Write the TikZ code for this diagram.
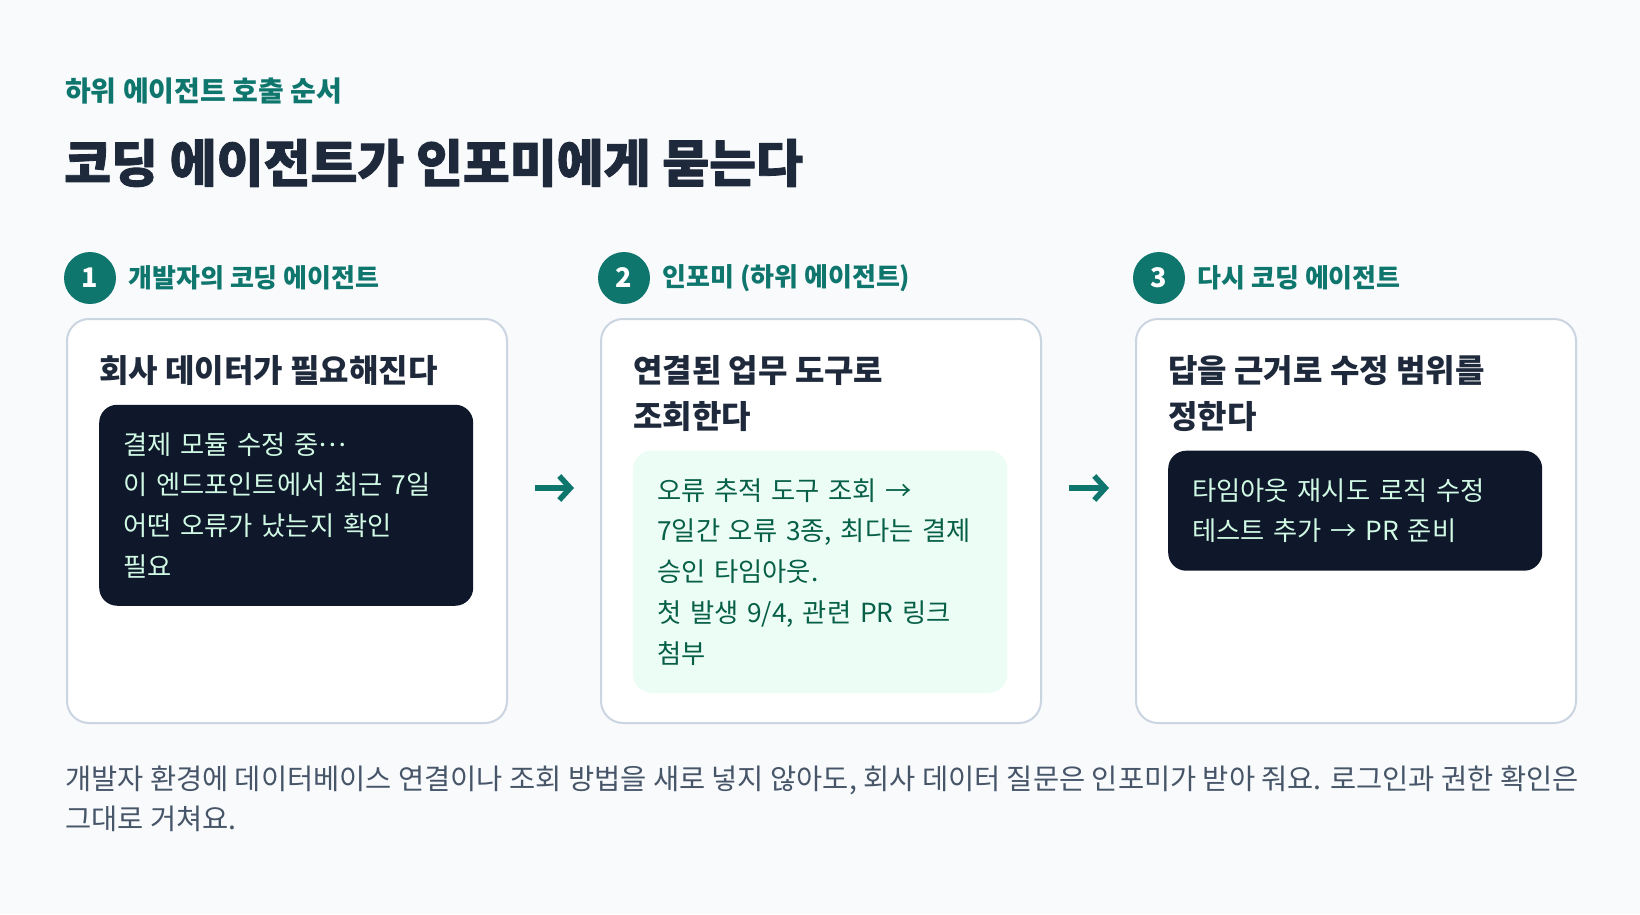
\documentclass[tikz,border=0pt]{standalone}
\usepackage{fontspec}
\setmainfont{Noto Sans CJK KR}
\newfontfamily\titlefont{Noto Sans CJK KR}[BoldFeatures={FakeBold=1.6}]
\usetikzlibrary{positioning,arrows.meta}
\definecolor{pagebg}{HTML}{F8FAFC}
\definecolor{stepteal}{HTML}{0F766E}
\definecolor{ink}{HTML}{1E293B}
\definecolor{cardline}{HTML}{CBD5E1}
\definecolor{boxdark}{HTML}{0F172A}
\definecolor{mint}{HTML}{D1FAE5}
\definecolor{boxgreen}{HTML}{ECFDF5}
\definecolor{greentext}{HTML}{065F46}
\definecolor{notegray}{HTML}{475569}
\newcommand{\middots}{\raisebox{.3em}{…}}
\begin{document}
\begin{tikzpicture}[x=1pt,y=-1pt,line join=round,
	card/.style={draw=cardline,line width=2pt,fill=white,rounded corners=22pt,
		minimum width=440pt,minimum height=404pt,anchor=north west,inner sep=0pt},
	stepdot/.style={circle,fill=stepteal,text=white,minimum size=52pt,inner sep=0pt,
		font=\fontsize{27}{30}\selectfont\bfseries},
	steplabel/.style={right=12pt of #1,inner sep=0pt,text=stepteal,
		font=\fontsize{26}{30}\selectfont\bfseries},
	head/.style={anchor=north west,inner sep=0pt,align=left,text=ink,
		font=\fontsize{32}{46}\selectfont\bfseries},
	inbox/.style={below=19pt of #1.south west,anchor=north west,rounded corners=18pt,
		align=left,inner xsep=24pt,inner ysep=0pt,text width=326pt,minimum width=374pt,
		font=\fontsize{26.3}{40.8}\selectfont},
	darkbox/.style={inbox=#1,fill=boxdark,text=mint},
	greenbox/.style={inbox=#1,fill=boxgreen,text=greentext},
	flow/.style={draw=stepteal,line width=5.5pt,-{Straight Barb[length=11pt,width=24pt]}}]
	\fill[pagebg] (0,0) rectangle (1640,914);
	\useasboundingbox (0,0) rectangle (1640,914);
	% titles
	\node[anchor=base west,inner sep=0pt,text=stepteal,font=\fontsize{28}{32}\selectfont\bfseries]
		(kicker) at (65,101) {하위 에이전트 호출 순서};
	\node[anchor=base west,inner sep=0pt,text=ink,font=\fontsize{51}{58}\titlefont\bfseries]
		(title) at (64,182) {코딩 에이전트가 인포미에게 묻는다};
	% cards
	\node[card] (c1) at (66,318) {};
	\node[card] (c2) at (600,318) {};
	\node[card] (c3) at (1135,318) {};
	% step markers
	\node[stepdot] (s1) at ([shift={(24pt,40pt)}]c1.north west) {1};
	\node[stepdot] (s2) at ([shift={(24pt,40pt)}]c2.north west) {2};
	\node[stepdot] (s3) at ([shift={(24pt,40pt)}]c3.north west) {3};
	\node[steplabel=s1] (l1) {개발자의 코딩 에이전트};
	\node[steplabel=s2] (l2) {인포미 (하위 에이전트)};
	\node[steplabel=s3] (l3) {다시 코딩 에이전트};
	% card contents
	\node[head] (h1) at ([shift={(33pt,-37pt)}]c1.north west) {회사 데이터가 필요해진다};
	\node[head] (h2) at ([shift={(33pt,-37pt)}]c2.north west) {연결된 업무 도구로\\조회한다};
	\node[head] (h3) at ([shift={(33pt,-37pt)}]c3.north west) {답을 근거로 수정 범위를\\정한다};
	\node[darkbox=h1,minimum height=201pt] (b1)
		{결제 모듈 수정 중\middots\\이 엔드포인트에서 최근 7일\\어떤 오류가 났는지 확인\\필요};
	\node[greenbox=h2,minimum height=242pt] (b2)
		{오류 추적 도구 조회 →\\7일간 오류 3종, 최다는 결제\\승인 타임아웃.\\첫 발생 9/4, 관련 PR 링크\\첨부};
	\node[darkbox=h3,minimum height=120pt] (b3)
		{타임아웃 재시도 로직 수정\\테스트 추가 → PR 준비};
	% arrows
	\draw[flow] ([shift={(27pt,33pt)}]c1.east) -- ([shift={(-26pt,33pt)}]c2.west);
	\draw[flow] ([shift={(27pt,33pt)}]c2.east) -- ([shift={(-26pt,33pt)}]c3.west);
	% note
	\node[anchor=north west,inner sep=0pt,align=left,text=notegray,font=\fontsize{28.45}{40}\selectfont]
		(note) at (65,766) {개발자 환경에 데이터베이스 연결이나 조회 방법을 새로 넣지 않아도, 회사 데이터 질문은 인포미가 받아 줘요. 로그인과 권한 확인은\\그대로 거쳐요.};
\end{tikzpicture}
\end{document}
